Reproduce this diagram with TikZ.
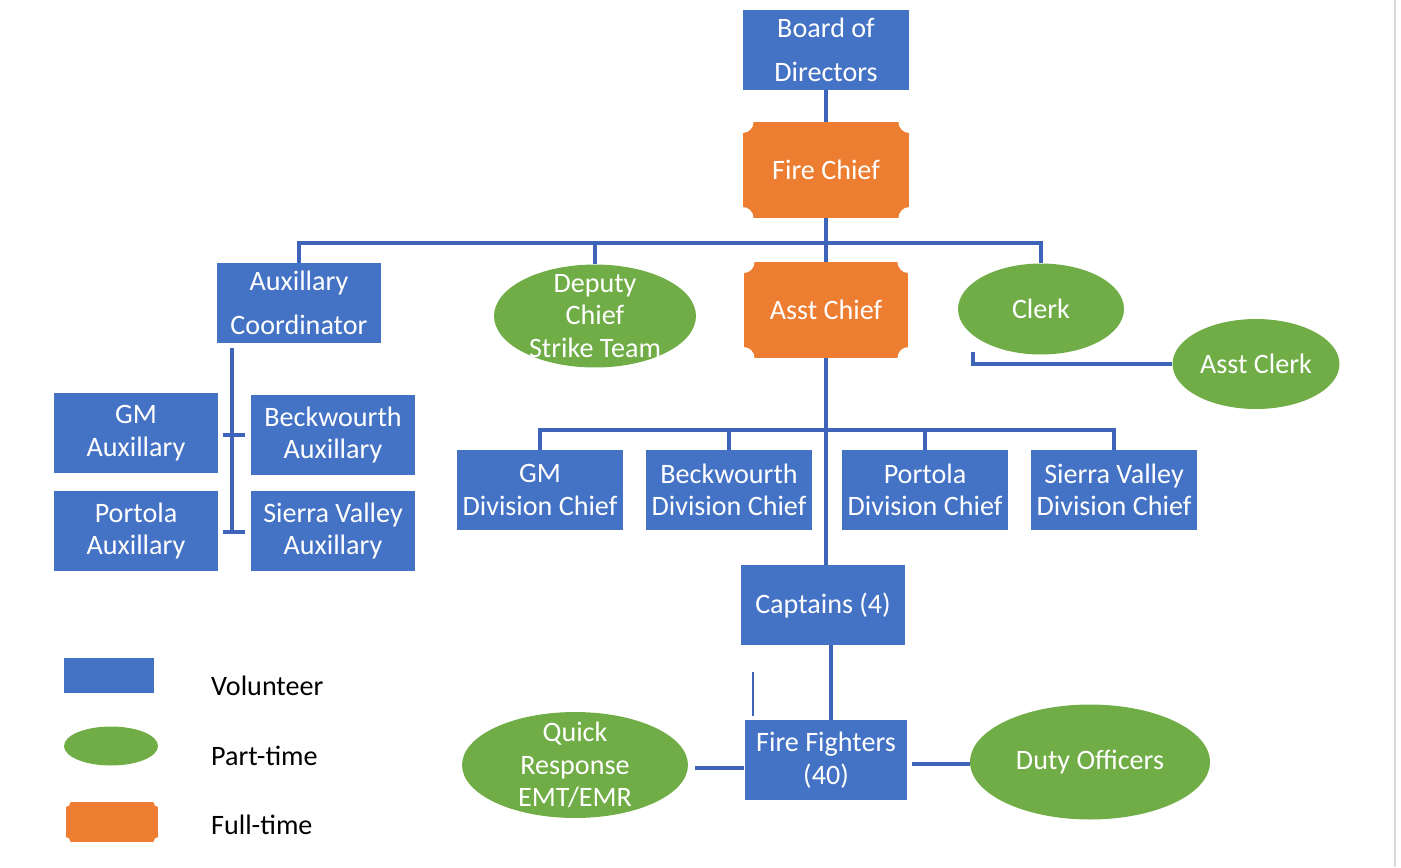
\documentclass[tikz,border=0pt]{standalone}
\usepackage{fontspec}
\setmainfont{Carlito}
\usepackage{tikz}
\usetikzlibrary{shapes.geometric}

\definecolor{volblue}{HTML}{4472C4}
\definecolor{partgreen}{HTML}{70AD47}
\definecolor{fullorange}{HTML}{ED7D31}
\definecolor{lineblue}{HTML}{3D64B8}

\newcommand{\boxfont}{\fontsize{16}{18.5}\selectfont}
\newcommand{\widefont}{\fontsize{16}{25}\selectfont}

\tikzset{
	volunteer/.style={rectangle, fill=volblue, text=white, align=center, inner sep=0pt,
		minimum width=3.3cm, minimum height=1.6cm, font=\boxfont},
	parttime/.style={ellipse, fill=partgreen, inner sep=0pt},
	ptext/.style={text=white, align=center, font=\boxfont},
	fulltime/.style={rectangle, text=white, align=center, inner sep=0pt,
		minimum width=3.34cm, minimum height=1.92cm, font=\boxfont,
		path picture={
			\fill[fullorange] (path picture bounding box.south west) rectangle (path picture bounding box.north east);
			\foreach \corner in {north west,north east,south west,south east}
				\fill[white] (path picture bounding box.\corner) circle (#1);
		}},
	fulltime/.default=0.22cm,
	conn/.style={draw=lineblue, line width=2pt},
	legendtext/.style={anchor=west, font=\boxfont, text=black}
}

\begin{document}
\begin{tikzpicture}[x=0.02cm, y=-0.02cm]
		\useasboundingbox (0,0) rectangle (1401,867);
	
		% Top of the chart
		\node[volunteer, minimum width=3.34cm, font=\widefont] (board) at (826,50) {Board of\\Directors};
		\node[fulltime] (fire) at (826,170) {Fire Chief};
	
		% Second row
		\node[volunteer, minimum width=3.28cm, font=\widefont] (aux) at (299,303) {Auxillary\\Coordinator};
		\node[parttime, minimum width=4.04cm, minimum height=2.06cm,
			label={[ptext]center:{Deputy\\Chief\\Strike Team}}] (deputy) at (595,316) {};
		\node[fulltime, minimum width=3.3cm] (asst) at (826,310) {Asst Chief};
		\node[parttime, minimum width=3.32cm, minimum height=1.82cm,
			label={[ptext]center:{Clerk}}] (clerk) at (1041,309) {};
		\node[parttime, minimum width=3.34cm, minimum height=1.8cm,
			label={[ptext]center:{Asst Clerk}}] (asstclerk) at (1256,364) {};
	
		% Auxillary units
		\node[volunteer] (gmaux) at (136,433) {GM\\Auxillary};
		\node[volunteer] (beckaux) at (333,435) {Beckwourth\\Auxillary};
		\node[volunteer] (portaux) at (136,531) {Portola\\Auxillary};
		\node[volunteer] (sierraaux) at (333,531) {Sierra Valley\\Auxillary};
	
		% Division chiefs
		\node[volunteer, minimum width=3.32cm] (gmdiv) at (540,490) {GM\\Division Chief};
		\node[volunteer, minimum width=3.32cm] (beckdiv) at (729,490) {Beckwourth\\Division Chief};
		\node[volunteer, minimum width=3.32cm] (portdiv) at (925,490) {Portola\\Division Chief};
		\node[volunteer, minimum width=3.32cm] (sierradiv) at (1114,490) {Sierra Valley\\Division Chief};
	
		% Captains and fire fighters
		\node[volunteer] (capt) at (823,605) {Captains (4)};
		\node[volunteer, minimum width=3.26cm] (ff) at (826,760) {Fire Fighters\\(40)};
		\node[parttime, minimum width=4.52cm, minimum height=2.12cm,
			label={[ptext]center:{Quick\\Response\\EMT/EMR}}] (qr) at (575,765) {};
		\node[parttime, minimum width=4.8cm, minimum height=2.3cm,
			label={[ptext]center:{Duty Officers}}] (duty) at (1090,762) {};
	
		% Bus lines
		\coordinate (bus) at (826,243);
		\coordinate (divbus) at (826,430);
		\coordinate (clerkend) at (973,352);
		\coordinate (auxend) at (232,532);
		\coordinate (tickA) at (223,435);
		\coordinate (tickB) at (223,532);
	
		% Connectors from the top
		\draw[conn] (board) -- (fire);
		\draw[conn] (fire.south) -- (bus);
		\draw[conn] (aux.north) |- (bus) -| (clerk.north);
		\draw[conn] (deputy.north) |- (bus);
		\draw[conn] (bus) -- (asst.north);
		\draw[conn] (clerkend) |- (asstclerk.west);
	
		% Auxillary spine with ticks
		\draw[conn] (aux.south -| auxend) ++(0,5) -- (auxend);
		\draw[conn] (tickA) -- ++(22,0);
		\draw[conn] (tickB) -- ++(22,0);
	
		% Asst Chief down to the divisions and captains
		\draw[conn] (asst.south) -- (asst.south |- capt.north);
		\draw[conn] (gmdiv.north) |- (divbus) -| (sierradiv.north);
		\draw[conn] (beckdiv.north) |- (divbus);
		\draw[conn] (portdiv.north) |- (divbus);
	
		% Captains to fire fighters, and the side units
		\draw[conn] ([xshift=0.1cm]ff.north) -- ([xshift=0.1cm]ff.north |- capt.south);
		\draw[lineblue, line width=0.6pt] (753,672) -- (753,716);
		\draw[conn] ([yshift=-0.06cm]qr.east) ++(0.14cm,0) -- ([yshift=-0.06cm]qr.east -| ff.west);
		\draw[conn] ([yshift=-0.08cm,xshift=0.08cm]ff.east) -- ([yshift=-0.08cm]ff.east -| duty.west);
	
		% Legend
		\node[volunteer, minimum width=1.8cm, minimum height=0.7cm] (lgvol) at (109,675) {};
		\node[parttime, minimum width=1.88cm, minimum height=0.78cm] (lgpart) at (111,746) {};
		\node[fulltime=0.1cm, minimum width=1.86cm, minimum height=0.8cm] (lgfull) at (112,822) {};
		\node[legendtext] (lgvoltext) at (205,686) {Volunteer};
		\node[legendtext] (lgparttext) at (205,756) {Part-time};
		\node[legendtext] (lgfulltext) at (205,825) {Full-time};
	
		% Frame edge on the right
		\draw[black!15, line width=0.8pt] (1395,0) -- (1395,867);
	
	\end{tikzpicture}
\end{document}
